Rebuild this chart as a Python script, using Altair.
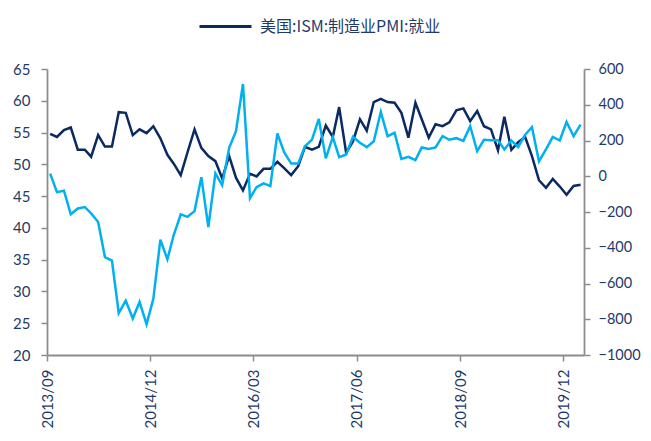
import altair as alt
import pandas as pd

# ---- data ----
series_dark = "美国:ISM:制造业PMI:就业"
series_light = "对比序列"

months = pd.date_range("2013-09-01", periods=78, freq="MS")
dates = [d.strftime("%Y/%m/15") for d in months]

pmi_employment = [
    54.8, 54.3, 55.4, 55.8, 52.3, 52.3, 51.2, 54.6, 52.8, 52.8,
    58.2, 58.1, 54.6, 55.5, 54.9, 56.0, 54.1, 51.5, 50.1, 48.3,
    51.9, 55.5, 52.6, 51.3, 50.5, 47.8, 51.3, 47.9, 45.9, 48.5,
    48.1, 49.3, 49.3, 50.4, 49.4, 48.3, 49.7, 52.75, 52.3, 52.75,
    56.1, 54.3, 59.0, 51.8, 53.6, 57.1, 55.3, 59.8, 60.3, 59.8,
    59.7, 58.1, 54.2, 59.7, 57.1, 54.2, 56.3, 56.0, 56.6, 58.5,
    58.8, 56.8, 58.4, 56.0, 55.5, 52.2, 57.5, 52.3, 53.5, 54.3,
    51.3, 47.5, 46.3, 47.7, 46.5, 45.2, 46.6, 46.8,
]

right_series = [
    15, -89, -81, -213, -180, -172, -208, -256, -452, -472,
    -766, -696, -796, -703, -828, -685, -355, -465, -329, -213,
    -227, -195, -5, -284, 16, -50, 159, 252, 516, -122,
    -61, -40, -55, 239, 135, 71, 71, 168, 205, 321,
    100, 219, 107, 122, 220, 187, 163, 196, 360, 224,
    243, 97, 109, 90, 161, 153, 161, 224, 204, 213,
    198, 280, 140, 204, 202, 202, 150, 200, 164, 232,
    274, 84, 150, 220, 200, 304, 224, 289,
]

left_ticks = [20, 25, 30, 35, 40, 45, 50, 55, 60, 65]
right_ticks = [-1000, -800, -600, -400, -200, 0, 200, 400, 600]
x_tick_months = [(2013, 9), (2014, 12), (2016, 3), (2017, 6), (2018, 9), (2019, 12)]

df = pd.DataFrame({
    "date": dates,
    "pmi": pmi_employment,
    "other": right_series,
    "series": series_dark,
})

DARK = "#0B2A62"
LIGHT = "#00B0F0"
AXIS_GRAY = "#8C8C8C"
TEXT = "#1F3A68"
FONT = "Lato"

x_enc = alt.X(
    "date:T",
    scale=alt.Scale(
        domain=[alt.DateTime(year=2013, month=9, date=1),
                alt.DateTime(year=2020, month=3, date=1)],
        nice=False,
    ),
    axis=alt.Axis(
        values=[alt.DateTime(year=y, month=m, date=1) for y, m in x_tick_months],
        format="%Y/%m",
        labelAngle=270,
        labelPadding=8,
        title=None,
    ),
)

dark = alt.Chart(df).mark_line(strokeWidth=2.5).encode(
    x=x_enc,
    y=alt.Y(
        "pmi:Q",
        scale=alt.Scale(domain=[20, 65], nice=False, zero=False),
        axis=alt.Axis(orient="left", values=left_ticks, format="d", title=None),
    ),
    color=alt.Color(
        "series:N",
        scale=alt.Scale(domain=[series_dark], range=[DARK]),
        legend=alt.Legend(
            title=None,
            orient="none",
            legendX=151,
            legendY=-70,
            symbolType="stroke",
            symbolSize=2704,
            symbolStrokeWidth=3,
            labelFont="Noto Sans CJK SC",
            labelFontSize=16,
            labelColor=TEXT,
            labelOffset=7,
            labelLimit=400,
        ),
    ),
)

light = alt.Chart(df).mark_line(strokeWidth=2.5, color=LIGHT).encode(
    x=x_enc,
    y=alt.Y(
        "other:Q",
        scale=alt.Scale(domain=[-1000, 600], nice=False, zero=False),
        axis=alt.Axis(orient="right", values=right_ticks, format="d",
                      labelPadding=8, labelFontSize=14.5, title=None),
    ),
)

chart = (
    alt.layer(dark, light)
    .resolve_scale(y="independent")
    .properties(
        width=537,
        height=286,
        autosize="none",
        padding={"left": 39, "top": 61, "right": 59, "bottom": 78},
        background="white",
    )
    .configure_view(stroke=None)
    .configure_axis(
        grid=False,
        domainColor=AXIS_GRAY,
        domainWidth=1.8,
        tickColor=AXIS_GRAY,
        tickWidth=1.5,
        tickSize=6,
        labelColor=TEXT,
        labelFont=FONT,
        labelFontSize=15,
        labelPadding=11,
    )
)

chart.save("out.html", embed_options={"renderer": "svg", "actions": False})
